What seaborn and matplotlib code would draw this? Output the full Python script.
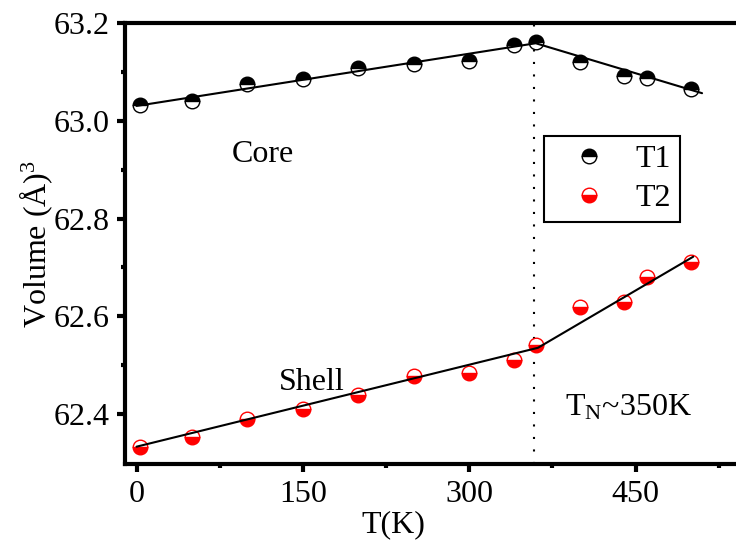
import numpy as np
import pandas as pd
import matplotlib.pyplot as plt
import seaborn as sns
from matplotlib.ticker import FixedLocator, FormatStrFormatter

# 1. Data
temps = [3, 50, 100, 150, 200, 250, 300, 340, 360, 400, 440, 460, 500]
vol_core = [63.031, 63.040, 63.075, 63.086, 63.107, 63.115, 63.122,
            63.154, 63.160, 63.120, 63.091, 63.088, 63.064]
vol_shell = [62.333, 62.354, 62.391, 62.411, 62.439, 62.478, 62.484,
             62.511, 62.542, 62.620, 62.630, 62.680, 62.712]

# piecewise linear guides through the data
core_fit_t = [0, 360, 510]
core_fit_v = [63.030, 63.158, 63.056]
shell_fit_t = [0, 362, 502]
shell_fit_v = [62.334, 62.536, 62.722]

t_neel = 358
x_ticks = [0, 150, 300, 450]
x_minor = [75, 225, 375, 525]
y_ticks = [62.4, 62.6, 62.8, 63.0, 63.2]
y_minor = [62.5, 62.7, 62.9, 63.1]

df_core = pd.DataFrame({'T': temps, 'V': vol_core})
df_shell = pd.DataFrame({'T': temps, 'V': vol_shell})

# 2. Style
sns.set_style('ticks')
plt.rcParams['font.family'] = ['Liberation Serif', 'DejaVu Serif']
plt.rcParams['mathtext.fontset'] = 'custom'
plt.rcParams['mathtext.rm'] = 'Liberation Serif'
plt.rcParams['mathtext.it'] = 'Liberation Serif:italic'
plt.rcParams['text.color'] = 'black'
plt.rcParams['axes.labelcolor'] = 'black'
FS = 23

fig = plt.figure(figsize=(7.36, 5.48), dpi=100)
ax = fig.add_axes([0.1698, 0.1527, 0.8302, 0.8059])

# 3. Markers (half filled circles)
sns.lineplot(data=df_core, x='T', y='V', ax=ax, marker='o', linestyle='',
             markersize=10.5, fillstyle='top', color='black',
             markerfacecolor='black', markerfacecoloralt='white',
             markeredgecolor='black', markeredgewidth=1.0, label='T1', zorder=3)
sns.lineplot(data=df_shell, x='T', y='V', ax=ax, marker='o', linestyle='',
             markersize=10.5, fillstyle='bottom', color='red',
             markerfacecolor='red', markerfacecoloralt='white',
             markeredgecolor='red', markeredgewidth=1.0, label='T2', zorder=3)
handles = list(ax.lines[:2])

# 4. Guide lines
sns.lineplot(x=core_fit_t, y=core_fit_v, ax=ax, color='black', linewidth=1.5, zorder=4)
sns.lineplot(x=shell_fit_t, y=shell_fit_v, ax=ax, color='black', linewidth=1.5, zorder=4)
ax.axvline(t_neel, color='black', linewidth=1.5, linestyle=(0, (1, 5)), zorder=2)

# 5. Axes
ax.set_xlim(-10.4, 540.6)
ax.set_ylim(62.298, 63.2)
ax.set_xticks(x_ticks)
ax.set_yticks(y_ticks)
ax.xaxis.set_minor_locator(FixedLocator(x_minor))
ax.yaxis.set_minor_locator(FixedLocator(y_minor))
ax.yaxis.set_major_formatter(FormatStrFormatter('%.1f'))
ax.tick_params(which='major', direction='out', length=6, width=3,
               labelsize=FS, pad=5, colors='black')
ax.tick_params(which='minor', direction='out', length=3.2, width=3, colors='black')
ax.spines['right'].set_visible(False)
for s in ['left', 'bottom', 'top']:
    ax.spines[s].set_linewidth(3)
    ax.spines[s].set_color('black')

ax.set_xlabel('T(K)', fontsize=FS)
ax.set_ylabel(r'Volume (Å)$^3$', fontsize=FS)
ax.xaxis.set_label_coords(0.439, -0.1035)
ax.yaxis.set_label_coords(-0.115, 0.5)

# 6. Annotations
ax.text(86, 62.915, 'Core', fontsize=FS, ha='left', va='baseline')
ax.text(128, 62.449, 'Shell', fontsize=FS, ha='left', va='baseline')
ax.text(386, 62.398, r'T$_{\rm N}$~350K', fontsize=FS, ha='left', va='baseline')

# 7. Legend
leg = ax.legend(handles, ['T1', 'T2'], loc='upper right',
                bbox_to_anchor=(680 / 736, 1 - 135.7 / 548),
                bbox_transform=fig.transFigure, borderaxespad=0,
                frameon=True, fancybox=False, framealpha=1, edgecolor='black',
                fontsize=FS, handlelength=2.3, handletextpad=0.3,
                labelspacing=0.3, borderpad=0.28)
leg.get_frame().set_linewidth(1.5)

fig.savefig('out.png', dpi=100)
plt.close()
